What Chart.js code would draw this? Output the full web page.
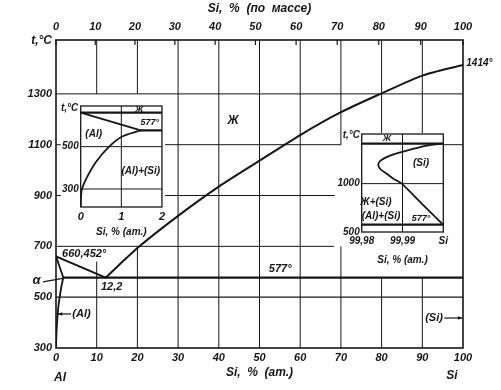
<!DOCTYPE html>
<html><head><meta charset="utf-8">
<script src="https://cdn.jsdelivr.net/npm/chart.js@4/dist/chart.umd.min.js"></script>
<style>
html,body{margin:0;padding:0;background:#fff;}
#wrap{position:relative;width:501px;height:390px;overflow:hidden;background:#fff;}
#wrap canvas{position:absolute;}
</style></head><body>
<div id="wrap">
<canvas id="main" width="501" height="390" style="left:0;top:0;width:501px;height:390px"></canvas>
<canvas id="in1" width="112" height="150" style="left:56px;top:96px;width:112px;height:150px"></canvas>
<canvas id="in2" width="125" height="145" style="left:330px;top:126px;width:125px;height:145px"></canvas>
</div>
<script>
// ---------- DATA : main Al–Si diagram (Si, at.% ; t, °C) ----------
const xTicks = [0,10,20,30,40,50,60,70,80,90,100];
const yTicks = [300,500,700,900,1100,1300];
const massTickLabels = [0,10,20,30,40,50,60,70,80,90,100];
const massTickAt = [0,9.65,19.4,29.2,39.1,49.0,59.0,69.1,79.3,89.6,100];
const liquidusAl = [[0,660.452],[12.2,577]];
const liquidusSi = [[12.2,577],[20.5,700],[30,820],[40,935],[50,1037],[60,1138],[70,1228],[80,1302],[90,1372],[100,1414]];
const solidusAl = [[0,660.452],[0.6,633],[1.3,600],[1.8,577]];
const solvusAl = [[1.8,577],[1.3,540],[0.6,465],[0.2,385],[0.05,330],[0,300]];
const eutectic = [[1.8,577],[100,577]];

// ---------- DATA : inset 1 (Al corner) ----------
const in1XTicks = [0,1,2];
const in1YTicks = [300,500];
const in1Melt = [[0,660.452],[2,660.452]];
const in1Eut = [[1.48,577],[2,577]];
const in1Solidus = [[0,660.452],[1.48,577]];
const in1Solvus = [[1.48,577],[1.01,547],[0.70,500],[0.38,429],[0.14,350],[0.02,290],[0,215]];

// ---------- DATA : inset 2 (Si corner) ----------
const in2XTicks = [99.98,99.99,100];
const in2XLabels = ['99,98','99,99','Si'];
const in2YTicks = [500,1000];
const in2Melt = [[99.98,1414],[100,1414]];
const in2Eut = [[99.98,577],[100,577]];
const in2Solidus = [[99.9997,1414],[99.99593,1393],[99.99103,1342],[99.98694,1290],[99.9849,1246],[99.98407,1205],[99.98449,1154],[99.98613,1102],[99.98775,1051],[99.9898,1000],[99.99471,794],[99.99995,577]];

// ---------- STYLE ----------
const INK = '#161616';
const FAM = '"Liberation Sans", Arial, sans-serif';
const fnt = (size, weight) => ({family: FAM, size: size, style: 'italic', weight: weight || 'bold'});
const plain = v => String(v);

function line(points, tension, width) {
  return {data: points.map(p => ({x: p[0], y: p[1]})), showLine: true, borderColor: INK,
    borderWidth: width || 2, pointRadius: 0, tension: tension || 0, fill: false,
    borderCapStyle: 'round', borderJoinStyle: 'round'};
}

const decor = {
  id: 'decor',
  beforeDatasetsDraw(chart, args, o) {
    const ctx = chart.ctx, xs = chart.scales.x, ys = chart.scales.y, a = chart.chartArea;
    ctx.save();
    ctx.strokeStyle = INK; ctx.lineCap = 'butt';
    (o.segs || []).forEach(s => {
      ctx.lineWidth = s[4] || 1;
      ctx.beginPath();
      ctx.moveTo(xs.getPixelForValue(s[0]), ys.getPixelForValue(s[1]));
      ctx.lineTo(xs.getPixelForValue(s[2]), ys.getPixelForValue(s[3]));
      ctx.stroke();
    });
    if (o.topTicks && chart.scales.xTop) {
      ctx.lineWidth = 1.2;
      chart.scales.xTop.ticks.forEach(t => {
        const px = chart.scales.xTop.getPixelForValue(t.value);
        ctx.beginPath(); ctx.moveTo(px, a.top); ctx.lineTo(px, a.top + 5); ctx.stroke();
      });
    }
    ctx.lineWidth = o.frame || 1.5;
    ctx.strokeRect(a.left, a.top, a.width, a.height);
    ctx.restore();
  },
  afterDatasetsDraw(chart, args, o) {
    const ctx = chart.ctx, xs = chart.scales.x, ys = chart.scales.y;
    ctx.save();
    ctx.fillStyle = INK; ctx.strokeStyle = INK; ctx.textBaseline = 'middle';
    (o.labels || []).forEach(l => {
      ctx.font = 'italic bold ' + (l.size || 11) + 'px ' + FAM;
      ctx.textAlign = l.align || 'center';
      ctx.fillText(l.t, xs.getPixelForValue(l.x), ys.getPixelForValue(l.y));
    });
    (o.arrows || []).forEach(r => {
      const x1 = xs.getPixelForValue(r[0]), y1 = ys.getPixelForValue(r[1]);
      const x2 = xs.getPixelForValue(r[2]), y2 = ys.getPixelForValue(r[3]);
      ctx.lineWidth = 1.2;
      ctx.beginPath(); ctx.moveTo(x1, y1); ctx.lineTo(x2, y2); ctx.stroke();
      if (r[4]) {
        const ang = Math.atan2(y2 - y1, x2 - x1), L = 5;
        ctx.beginPath();
        ctx.moveTo(x2, y2);
        ctx.lineTo(x2 - L * Math.cos(ang - 0.35), y2 - L * Math.sin(ang - 0.35));
        ctx.lineTo(x2 - L * Math.cos(ang + 0.35), y2 - L * Math.sin(ang + 0.35));
        ctx.closePath(); ctx.fill();
      }
    });
    ctx.restore();
  }
};

const base = {responsive: false, animation: false, devicePixelRatio: 1, events: []};

// ---------- MAIN CHART ----------
new Chart(document.getElementById('main'), {
  type: 'scatter',
  data: {datasets: [
    line(liquidusAl, 0), line(liquidusSi, 0.25), line(solidusAl, 0.3, 1.8),
    line(solvusAl, 0.3, 1.8), line(eutectic, 0, 2.2)
  ]},
  options: Object.assign({}, base, {
    layout: {padding: {left: 0, right: 38, top: 0, bottom: 0}},
    plugins: {
      legend: {display: false}, tooltip: {enabled: false},
      decor: {
        topTicks: true, frame: 1.6,
        segs: [
          [10,1300,10,1512],[10,300,10,640],[20,1300,20,1512],[20,300,20,700],
          [30,300,30,1512],[40,300,40,1512],[50,300,50,1512],[60,300,60,1512],
          [70,1100,70,1512],[70,300,70,700],[80,1146,80,1512],[80,300,80,577],
          [90,1146,90,1512],[90,300,90,577],
          [0,1300,100,1300],[0,1100,1.2,1100],[26.8,1100,70,1100],[95.3,1100,100,1100],
          [0,900,1.2,900],[26.8,900,68.5,900],[0,700,68.3,700],[0,500,100,500,1.4]
        ],
        labels: [
          {t: 'Ж', x: 43.5, y: 1193, size: 12},
          {t: '1414°', x: 100.8, y: 1421, align: 'left', size: 10},
          {t: '660,452°', x: 1.5, y: 670, align: 'left'},
          {t: '12,2', x: 11.05, y: 540, align: 'left'},
          {t: '577°', x: 52.3, y: 611, align: 'left'},
          {t: 'α', x: -4.8, y: 566, size: 13},
          {t: '(Al)', x: 4.0, y: 434, align: 'left'},
          {t: '(Si)', x: 90.7, y: 418, align: 'left'},
          {t: 'Al', x: 1.0, y: 182, size: 12},
          {t: 'Si', x: 97.3, y: 190, size: 12},
          {t: 't,°C', x: -1.0, y: 1508, align: 'right', size: 12}
        ],
        arrows: [
          [-3.2, 560, 1.6, 574, false],
          [3.7, 434, 0.4, 434, true],
          [95.4, 418, 99.9, 418, true]
        ]
      }
    },
    scales: {
      x: {type: 'linear', position: 'bottom', min: 0, max: 100,
        afterFit: s => { s.height = 42; },
        afterBuildTicks: s => { s.ticks = xTicks.map(v => ({value: v})); },
        grid: {display: false, drawTicks: false}, border: {display: false},
        ticks: {font: fnt(11), color: INK, padding: 3, maxRotation: 0, autoSkip: false, callback: plain},
        title: {display: true, text: 'Si,  %  (ат.)', font: fnt(12), color: INK, padding: {top: 0, bottom: 10}}
      },
      xTop: {type: 'linear', position: 'top', min: 0, max: 100,
        afterFit: s => { s.height = 40; },
        afterBuildTicks: s => { s.ticks = massTickAt.map(v => ({value: v})); },
        grid: {display: false, drawTicks: false}, border: {display: false},
        ticks: {font: fnt(11), color: INK, padding: 6, maxRotation: 0, autoSkip: false,
          callback: (v, i) => String(massTickLabels[i])},
        title: {display: true, text: 'Si,  %  (по  массе)', font: fnt(12), color: INK, padding: {top: 1, bottom: 0}}
      },
      y: {type: 'linear', position: 'left', min: 300, max: 1512,
        afterFit: s => { s.width = 56; },
        afterBuildTicks: s => { s.ticks = yTicks.map(v => ({value: v})); },
        grid: {display: false, drawTicks: false}, border: {display: false},
        ticks: {font: fnt(11), color: INK, padding: 4, autoSkip: false, callback: plain}
      }
    }
  }),
  plugins: [decor]
});

// ---------- INSET 1 ----------
new Chart(document.getElementById('in1'), {
  type: 'scatter',
  data: {datasets: [
    line(in1Melt, 0, 2.2), line(in1Eut, 0, 2.2), line(in1Solidus, 0, 1.8), line(in1Solvus, 0.35, 1.8)
  ]},
  options: Object.assign({}, base, {
    layout: {padding: {left: 0, right: 3.3, top: 10, bottom: 0}},
    plugins: {
      legend: {display: false}, tooltip: {enabled: false},
      decor: {
        frame: 1.3,
        segs: [[1,215,1,692],[0,500,2,500],[0,300,2,300]],
        labels: [
          {t: 't,°C', x: -0.06, y: 682, align: 'right', size: 10},
          {t: 'Ж', x: 1.44, y: 675, size: 9},
          {t: '577°', x: 1.70, y: 616, size: 9},
          {t: '(Al)', x: 0.32, y: 560, size: 10},
          {t: '(Al)+(Si)', x: 1.48, y: 385, size: 10}
        ]
      }
    },
    scales: {
      x: {type: 'linear', position: 'bottom', min: 0, max: 2,
        afterFit: s => { s.height = 39; },
        afterBuildTicks: s => { s.ticks = in1XTicks.map(v => ({value: v})); },
        grid: {display: false, drawTicks: false}, border: {display: false},
        ticks: {font: fnt(11), color: INK, padding: 3, maxRotation: 0, autoSkip: false, callback: plain},
        title: {display: true, text: 'Si, % (ат.)', font: fnt(10), color: INK, padding: {top: 0, bottom: 8}}
      },
      y: {type: 'linear', position: 'left', min: 215, max: 692,
        afterFit: s => { s.width = 24.7; },
        afterBuildTicks: s => { s.ticks = in1YTicks.map(v => ({value: v})); },
        grid: {display: false, drawTicks: false}, border: {display: false},
        ticks: {font: fnt(10), color: INK, padding: 2, autoSkip: false, callback: plain}
      }
    }
  }),
  plugins: [decor]
});

// ---------- INSET 2 ----------
new Chart(document.getElementById('in2'), {
  type: 'scatter',
  data: {datasets: [
    line(in2Melt, 0, 2.2), line(in2Eut, 0, 2.2), line(in2Solidus, 0.3, 1.8)
  ]},
  options: Object.assign({}, base, {
    layout: {padding: {left: 0, right: 11.7, top: 7.3, bottom: 0}},
    plugins: {
      legend: {display: false}, tooltip: {enabled: false},
      decor: {
        frame: 1.3,
        segs: [[99.99,500,99.99,1513],[99.98,1000,100,1000]],
        labels: [
          {t: 't,°C', x: 99.9796, y: 1496, align: 'right', size: 10},
          {t: 'Ж', x: 99.9862, y: 1470, size: 9},
          {t: '(Si)', x: 99.99453, y: 1208, size: 10},
          {t: 'Ж+(Si)', x: 99.9835, y: 808, size: 10},
          {t: '(Al)+(Si)', x: 99.98473, y: 664, size: 10},
          {t: '577°', x: 99.99453, y: 640, size: 9}
        ]
      }
    },
    scales: {
      x: {type: 'linear', position: 'bottom', min: 99.98, max: 100,
        afterFit: s => { s.height = 39; },
        afterBuildTicks: s => { s.ticks = in2XTicks.map(v => ({value: v})); },
        grid: {display: false, drawTicks: false}, border: {display: false},
        ticks: {font: fnt(10), color: INK, padding: 3, maxRotation: 0, autoSkip: false,
          callback: (v, i) => in2XLabels[i]},
        title: {display: true, text: 'Si, % (ат.)', font: fnt(10), color: INK, padding: {top: 0, bottom: 5}}
      },
      y: {type: 'linear', position: 'left', min: 500, max: 1513,
        afterFit: s => { s.width = 31.7; },
        afterBuildTicks: s => { s.ticks = in2YTicks.map(v => ({value: v})); },
        grid: {display: false, drawTicks: false}, border: {display: false},
        ticks: {font: fnt(10), color: INK, padding: 2, autoSkip: false, callback: plain}
      }
    }
  }),
  plugins: [decor]
});
</script>
</body></html>
